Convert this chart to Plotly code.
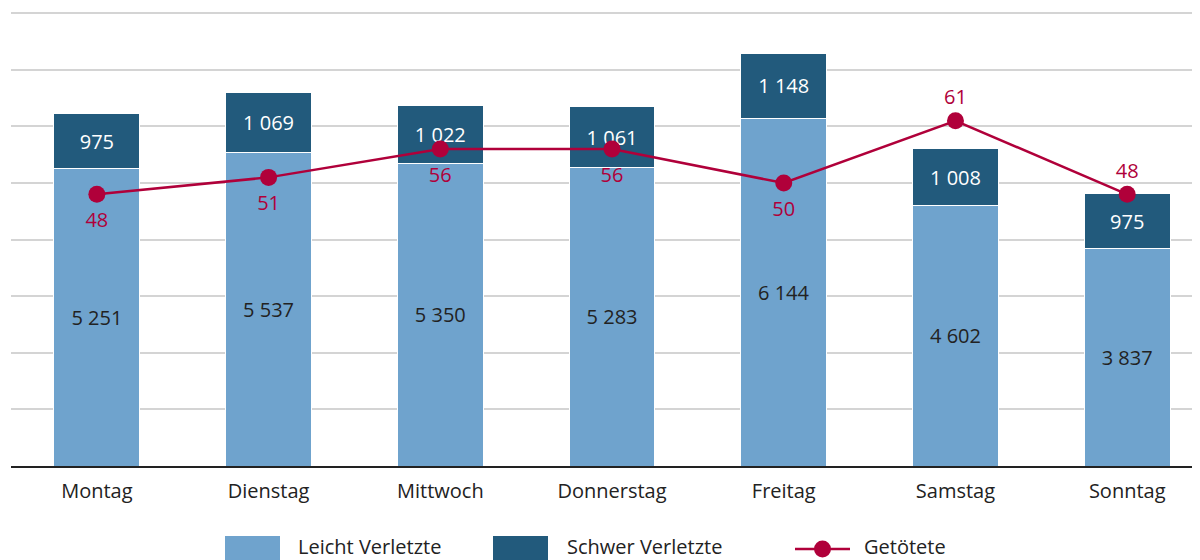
import plotly.graph_objects as go

days = ["Montag", "Dienstag", "Mittwoch", "Donnerstag", "Freitag", "Samstag", "Sonntag"]
leicht = [5251, 5537, 5350, 5283, 6144, 4602, 3837]
schwer = [975, 1069, 1022, 1061, 1148, 1008, 975]
getoetet = [48, 51, 56, 56, 50, 61, 48]
label_pos = ["bottom center"] * 5 + ["top center"] * 2

C_LIGHT = "#6fa3cd"
C_DARK = "#225a7c"
C_RED = "#b0003a"
FONT = "Open Sans"

def fmt(v):
    return f"{v:,}".replace(",", " ")

OFF = 8  # default page body margin
W, H = 1200 - OFF, 560 - OFF
L, R, T, B = 11 - OFF, 0, 11 - OFF, 560 - 466

fig = go.Figure()
fig.add_trace(go.Bar(
    x=days, y=leicht, name="Leicht Verletzte", marker=dict(color=C_LIGHT, line=dict(color="white", width=1)),
    width=0.5, text=[fmt(v) for v in leicht], textposition="inside", insidetextanchor="middle",
    textfont=dict(color="#222222", size=20, family=FONT), showlegend=False))
fig.add_trace(go.Bar(
    x=days, y=schwer, name="Schwer Verletzte", marker=dict(color=C_DARK, line=dict(color="white", width=1)),
    width=0.5, text=[fmt(v) for v in schwer], textposition="inside", insidetextanchor="middle",
    textfont=dict(color="white", size=20, family=FONT), showlegend=False))
fig.add_trace(go.Scatter(
    x=days, y=getoetet, name="Getötete", yaxis="y2", mode="lines+markers",
    line=dict(color=C_RED, width=2.5), marker=dict(color=C_RED, size=17),
    showlegend=False, cliponaxis=False))
fig.add_trace(go.Scatter(
    x=days, y=getoetet, yaxis="y2", mode="markers+text", hoverinfo="skip",
    marker=dict(color=C_RED, opacity=0, size=[27 if p.startswith("bottom") else 17 for p in label_pos]),
    text=[str(v) for v in getoetet], textposition=label_pos,
    textfont=dict(color=C_RED, size=20, family=FONT), showlegend=False, cliponaxis=False))

pw, ph = W - L - R, H - T - B
def px(x): return (x - OFF - L) / pw
def py(y): return (H - B - (y - OFF)) / ph

shapes = [
    dict(type="rect", xref="paper", yref="paper", x0=px(225), x1=px(280), y0=py(562), y1=py(536),
         fillcolor=C_LIGHT, line=dict(width=0)),
    dict(type="rect", xref="paper", yref="paper", x0=px(493), x1=px(548), y0=py(562), y1=py(536),
         fillcolor=C_DARK, line=dict(width=0)),
    dict(type="line", xref="paper", yref="paper", x0=px(795), x1=px(850), y0=py(549), y1=py(549),
         line=dict(color=C_RED, width=2.5)),
    dict(type="circle", xref="paper", yref="paper", x0=px(814), x1=px(831), y0=py(557.5), y1=py(540.5),
         fillcolor=C_RED, line=dict(width=0)),
]
annotations = [
    dict(text=t, xref="paper", yref="paper", x=px(xp), y=py(546), xanchor="left", yanchor="middle",
         showarrow=False, font=dict(size=20, color="#222222", family=FONT))
    for t, xp in [("Leicht Verletzte", 296), ("Schwer Verletzte", 565), ("Getötete", 862)]
]

fig.update_layout(
    width=W, height=H, barmode="stack", plot_bgcolor="white", paper_bgcolor="white",
    margin=dict(l=L, r=R, t=T, b=B),
    font=dict(family=FONT, size=20, color="#222222"),
    xaxis=dict(range=[-0.5, 6.424], showline=True, linecolor="#222222", linewidth=2,
               ticks="", ticklabelstandoff=6, tickfont=dict(size=20, color="#222222")),
    yaxis=dict(range=[0, 8040], tickvals=[1000 * i for i in range(1, 9)], showgrid=True,
               gridcolor="#d4d4d4", gridwidth=2, showticklabels=False, zeroline=False),
    yaxis2=dict(range=[0, 80.4], overlaying="y", side="right", showgrid=False, showticklabels=False,
                zeroline=False),
    shapes=shapes, annotations=annotations, showlegend=False,
)

fig.write_html("out.html")
